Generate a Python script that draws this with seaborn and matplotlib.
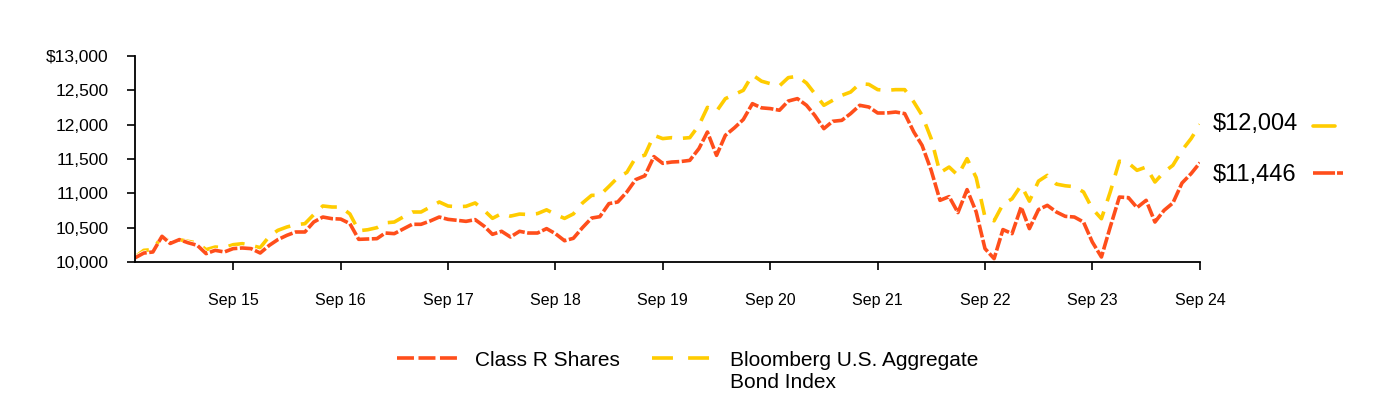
import matplotlib
matplotlib.use("Agg")
import numpy as np
import pandas as pd
import seaborn as sns
import matplotlib.pyplot as plt
import matplotlib.patheffects as pe
from matplotlib.lines import Line2D

# ---------------- data ----------------
months = pd.date_range("2014-10-31", periods=120, freq="ME")

class_r = [
    10060, 10130, 10146, 10374, 10270, 10326, 10280, 10243, 10122, 10170,
    10146, 10195, 10204, 10195, 10131, 10243, 10326, 10389, 10437, 10437,
    10582, 10655, 10631, 10625, 10559, 10330, 10335, 10340, 10422, 10413,
    10480, 10549, 10549, 10597, 10655, 10621, 10607, 10592, 10617, 10520,
    10403, 10447, 10364, 10447, 10422, 10422, 10486, 10413, 10310, 10345,
    10500, 10640, 10660, 10850, 10874, 11020, 11200, 11255, 11535, 11437,
    11456, 11463, 11480, 11651, 11893, 11553, 11845, 11955, 12075, 12306,
    12245, 12234, 12210, 12344, 12379, 12282, 12136, 11942, 12049, 12063,
    12161, 12282, 12257, 12170, 12170, 12184, 12161, 11893, 11699, 11335,
    10898, 10952, 10720, 11054, 10730, 10195, 10049, 10472, 10413, 10801,
    10486, 10763, 10825, 10728, 10665, 10655, 10582, 10291, 10073, 10510,
    10946, 10937, 10792, 10898, 10582, 10752, 10859, 11150, 11287, 11446,
]

bond_index = [
    10070, 10170, 10180, 10374, 10291, 10326, 10301, 10277, 10180, 10218,
    10209, 10252, 10267, 10243, 10209, 10374, 10461, 10510, 10544, 10558,
    10690, 10816, 10801, 10800, 10700, 10455, 10470, 10500, 10570, 10582,
    10655, 10728, 10728, 10800, 10874, 10815, 10805, 10811, 10860, 10750,
    10636, 10705, 10668, 10698, 10692, 10705, 10760, 10693, 10635, 10700,
    10859, 10971, 10971, 11100, 11230, 11305, 11520, 11555, 11845, 11797,
    11811, 11800, 11811, 11990, 12252, 12196, 12379, 12440, 12500, 12725,
    12633, 12597, 12565, 12685, 12704, 12606, 12452, 12282, 12354, 12427,
    12475, 12597, 12587, 12510, 12500, 12510, 12510, 12330, 12136, 11797,
    11300, 11383, 11262, 11505, 11230, 10655, 10600, 10840, 10920, 11117,
    10886, 11178, 11262, 11134, 11110, 11097, 11020, 10777, 10630, 11020,
    11468, 11441, 11335, 11383, 11165, 11310, 11408, 11626, 11797, 12004,
]

series_names = ["Class R Shares", "Bloomberg U.S. Aggregate Bond Index"]
legend_first_lines = ["Class R Shares", "Bloomberg U.S. Aggregate"]
legend_second_line = "Bond Index"
end_labels = ["$11,446", "$12,004"]
y_ticks = [10000, 10500, 11000, 11500, 12000, 12500, 13000]
y_tick_labels = ["10,000", "10,500", "11,000", "11,500", "12,000", "12,500", "$13,000"]

df = pd.DataFrame({
    "date": np.tile(months, 2),
    "value": class_r + bond_index,
    "series": np.repeat(series_names, len(months)),
})

# ---------------- style ----------------
ORANGE = "#FF4E1B"
YELLOW = "#FFCC00"
LW = 2.6
palette = {series_names[0]: ORANGE, series_names[1]: YELLOW}
dash_map = {series_names[0]: (3.6, 0.7), series_names[1]: (4.5, 3.0)}

sns.set_theme(style="ticks")
plt.rcParams["font.family"] = ["Liberation Sans", "DejaVu Sans"]
plt.rcParams["text.color"] = "black"
plt.rcParams["xtick.color"] = "black"
plt.rcParams["ytick.color"] = "black"

fig = plt.figure(figsize=(13.84, 4.0), dpi=100)
ax = fig.add_axes([0.0975, 0.345, 0.7695, 0.515])

order = [series_names[1], series_names[0]]  # index drawn first, Class R on top
sns.lineplot(
    data=df, x="date", y="value", hue="series", style="series",
    hue_order=order, style_order=order, palette=palette, dashes=dash_map,
    linewidth=LW, errorbar=None, legend=False, ax=ax,
)
for ln in ax.lines:
    ln.set_path_effects([pe.Stroke(linewidth=LW + 1.0, foreground="white"), pe.Normal()])

ax.set_xlim(months[0], months[-1])
ax.set_ylim(10000, 13000)
sep_ticks = months[months.month == 9]
ax.set_xticks(sep_ticks)
ax.set_xticklabels([d.strftime("%b %y") for d in sep_ticks])
ax.set_yticks(y_ticks)
ax.set_yticklabels(y_tick_labels)
ax.set_xlabel("")
ax.set_ylabel("")

for side in ["top", "right"]:
    ax.spines[side].set_visible(False)
for side in ["left", "bottom"]:
    ax.spines[side].set_color("black")
    ax.spines[side].set_linewidth(1.3)
ax.tick_params(axis="x", direction="out", length=6, width=1.2, pad=16, labelsize=11.5)
ax.tick_params(axis="y", direction="out", length=6, width=1.2, pad=13, labelsize=12.5)

# ---------------- end labels ----------------
ax.annotate(end_labels[1], xy=(1, bond_index[-1]), xycoords=("axes fraction", "data"),
            xytext=(9, 0), textcoords="offset points", va="center", ha="left",
            fontsize=17, annotation_clip=False)
ax.annotate(end_labels[0], xy=(1, class_r[-1]), xycoords=("axes fraction", "data"),
            xytext=(9, -9), textcoords="offset points", va="center", ha="left",
            fontsize=17, annotation_clip=False)

W, H = 1384, 400
fig.add_artist(Line2D([1313 / W, 1335 / W], [1 - 126 / H] * 2, color=YELLOW, lw=LW,
                      transform=fig.transFigure))
fig.add_artist(Line2D([1313 / W, 1343 / W], [1 - 173 / H] * 2, color=ORANGE, lw=LW,
                      linestyle=(0, (6.1, 0.55, 1.7, 5)), transform=fig.transFigure))

# ---------------- legend ----------------
handles = [
    Line2D([], [], color=ORANGE, lw=LW, dashes=(4.7, 1.25)),
    Line2D([], [], color=YELLOW, lw=LW, dashes=(5.8, 4.2)),
]
leg = fig.legend(handles, legend_first_lines, loc="upper center", bbox_to_anchor=(0.497, 0.17),
                 ncol=2, frameon=False, fontsize=15, handlelength=2.9,
                 handletextpad=0.85, columnspacing=1.55)

fig.canvas.draw()
renderer = fig.canvas.get_renderer()
bb = leg.get_texts()[1].get_window_extent(renderer)
fx, fy = fig.transFigure.inverted().transform((bb.x0, bb.y0))
fig.text(fx, fy - 0.008, legend_second_line, fontsize=15, ha="left", va="top")

fig.savefig("out.png", dpi=100)
